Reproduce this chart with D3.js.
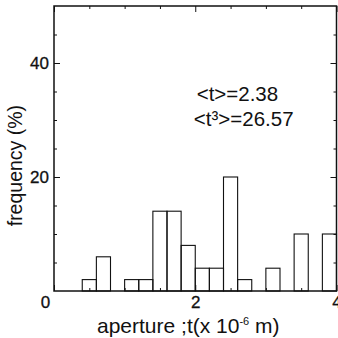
<!DOCTYPE html>
<html>
<head>
<meta charset="utf-8">
<script src="https://d3js.org/d3.v7.min.js"></script>
<style>
    body {
        margin: 0;
        background: #fff;
    }
    text {
        font-family: "Liberation Sans", Arial, sans-serif;
        fill: #111;
    }
</style>
</head>
<body>
<svg id="chart" width="338" height="338"></svg>
<script>
    // histogram bins (left edge, width 0.2) and frequency in %
    const binStart = [0.4, 0.6, 1.0, 1.2, 1.4, 1.6, 1.8, 2.0, 2.2, 2.4, 2.6, 3.0, 3.4, 3.8];
    const freq = [2, 6, 2, 2, 14, 14, 8, 4, 4, 20, 2, 4, 10, 10];
    const binWidth = 0.2;

    const xTicks = [0, 2, 4];
    const xMinor = [0.5, 1, 1.5, 2.5, 3, 3.5];
    const yTicks = [20, 40];
    const yMinor = [5, 10, 15, 25, 30, 35, 45];
    const stats = ["<t>=2.38", "<t³>=26.57"];

    const margin = {top: 6, right: 1.5, bottom: 47, left: 54},
        width = 338 - margin.left - margin.right,
        height = 338 - margin.top - margin.bottom;

    const svg = d3.select("#chart")
        .append("g")
        .attr("transform", "translate(" + margin.left + "," + margin.top + ")");

    const x = d3.scaleLinear().domain([0, 4]).range([0, width]);
    const y = d3.scaleLinear().domain([0, 50]).range([height, 0]);

    // bars
    svg.selectAll("rect.bar")
        .data(freq)
        .join("rect")
        .attr("class", "bar")
        .attr("x", (d, i) => x(binStart[i]))
        .attr("width", (d, i) => x(binStart[i] + binWidth) - x(binStart[i]))
        .attr("y", d => y(d))
        .attr("height", d => y(0) - y(d))
        .attr("fill", "none")
        .attr("stroke", "#111")
        .attr("stroke-width", 1.1);

    // ticks on all four sides, pointing inward
    function ticks(axis, vals, size, label) {
        return axis.tickValues(vals).tickSize(-size).tickPadding(5)
            .tickFormat(label ? d3.format("d") : "");
    }
    const parts = [
        [d3.axisBottom(x), xTicks, 6, true, "translate(0," + height + ")"],
        [d3.axisBottom(x), xMinor, 3, false, "translate(0," + height + ")"],
        [d3.axisTop(x), xTicks, 6, false, "translate(0,0)"],
        [d3.axisTop(x), xMinor, 3, false, "translate(0,0)"],
        [d3.axisLeft(y), yTicks, 6, true, "translate(0,0)"],
        [d3.axisLeft(y), yMinor, 3, false, "translate(0,0)"],
        [d3.axisRight(y), yTicks, 6, false, "translate(" + width + ",0)"],
        [d3.axisRight(y), yMinor, 3, false, "translate(" + width + ",0)"]
    ];
    parts.forEach(p => {
        const g = svg.append("g")
            .attr("transform", p[4])
            .call(ticks(p[0], p[1], p[2], p[3]));
        g.select(".domain").remove();
        g.selectAll("line").attr("stroke", "#111").attr("stroke-width", 1);
        g.selectAll("text")
            .attr("font-size", 17)
            .attr("font-family", "Liberation Sans, Arial, sans-serif")
            .attr("stroke", "#111")
            .attr("stroke-width", 0.3)
            .attr("fill", "#111");
    });
    // the x "0" label sits a little left of the axis
    svg.selectAll("text").filter(function() { return this.textContent === "0"; })
        .attr("dx", -9);

    // frame
    svg.append("rect")
        .attr("width", width)
        .attr("height", height)
        .attr("fill", "none")
        .attr("stroke", "#111")
        .attr("stroke-width", 1.5);

    // statistics
    svg.append("text")
        .attr("x", x(2.02))
        .attr("y", y(33.4))
        .attr("font-size", 20.5)
        .text(stats[0]);
    svg.append("text")
        .attr("x", x(1.98))
        .attr("y", y(28.9))
        .attr("font-size", 20.5)
        .text(stats[1]);

    // axis titles
    svg.append("text")
        .attr("x", 97 - margin.left)
        .attr("y", height + 42)
        .attr("font-size", 21)
        .html('aperture ;t(x 10<tspan font-size="11" dy="-8">-6</tspan><tspan dy="8"> m)</tspan>');

    svg.append("text")
        .attr("transform", "translate(" + (-32) + "," + (y(22)) + ") rotate(-90)")
        .attr("text-anchor", "middle")
        .attr("font-size", 19.5)
        .text("frequency (%)");
</script>
</body>
</html>
